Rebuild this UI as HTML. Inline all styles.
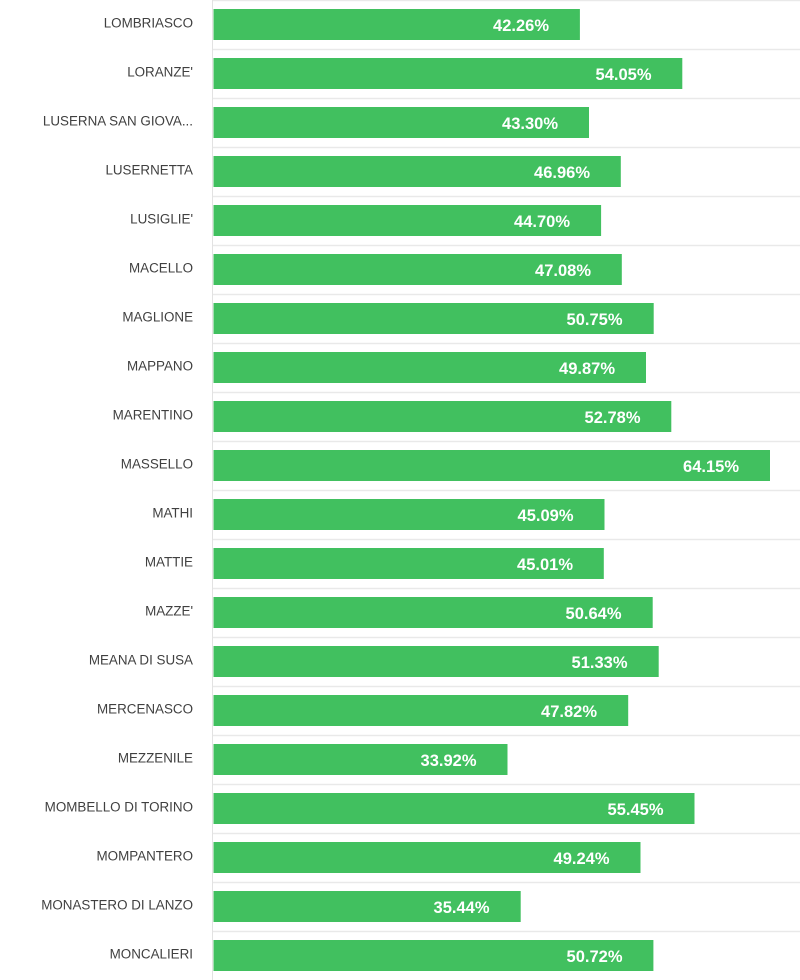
<!DOCTYPE html>
<html><head><meta charset="utf-8"><style>
html,body{margin:0;padding:0;background:#fff;width:800px;height:980px;overflow:hidden}
svg{display:block}
.l{font-family:"Liberation Sans",Arial,sans-serif;font-size:13.4px;fill:#404040;text-anchor:end}
.p{font-family:"Liberation Sans",Arial,sans-serif;font-size:16.5px;font-weight:bold;fill:#fff;text-anchor:end}
.b{fill:#41c05f}
.g{stroke:#e9e9e9;stroke-width:1.5}
</style></head><body>
<svg width="800" height="980" viewBox="0 0 800 980" xmlns="http://www.w3.org/2000/svg">
<g>
<line class="g" x1="213" x2="800" y1="0.5" y2="0.5"/>
<line class="g" x1="213" x2="800" y1="49.5" y2="49.5"/>
<line class="g" x1="213" x2="800" y1="98.5" y2="98.5"/>
<line class="g" x1="213" x2="800" y1="147.5" y2="147.5"/>
<line class="g" x1="213" x2="800" y1="196.5" y2="196.5"/>
<line class="g" x1="213" x2="800" y1="245.5" y2="245.5"/>
<line class="g" x1="213" x2="800" y1="294.5" y2="294.5"/>
<line class="g" x1="213" x2="800" y1="343.5" y2="343.5"/>
<line class="g" x1="213" x2="800" y1="392.5" y2="392.5"/>
<line class="g" x1="213" x2="800" y1="441.5" y2="441.5"/>
<line class="g" x1="213" x2="800" y1="490.5" y2="490.5"/>
<line class="g" x1="213" x2="800" y1="539.5" y2="539.5"/>
<line class="g" x1="213" x2="800" y1="588.5" y2="588.5"/>
<line class="g" x1="213" x2="800" y1="637.5" y2="637.5"/>
<line class="g" x1="213" x2="800" y1="686.5" y2="686.5"/>
<line class="g" x1="213" x2="800" y1="735.5" y2="735.5"/>
<line class="g" x1="213" x2="800" y1="784.5" y2="784.5"/>
<line class="g" x1="213" x2="800" y1="833.5" y2="833.5"/>
<line class="g" x1="213" x2="800" y1="882.5" y2="882.5"/>
<line class="g" x1="213" x2="800" y1="931.5" y2="931.5"/>
<line x1="212.5" x2="212.5" y1="0" y2="980" stroke="#e2e2e2" stroke-width="1"/>
</g>
<g>
<rect class="b" x="213.5" y="9" width="366.4" height="31"/>
<rect class="b" x="213.5" y="58" width="468.8" height="31"/>
<rect class="b" x="213.5" y="107" width="375.5" height="31"/>
<rect class="b" x="213.5" y="156" width="407.3" height="31"/>
<rect class="b" x="213.5" y="205" width="387.6" height="31"/>
<rect class="b" x="213.5" y="254" width="408.3" height="31"/>
<rect class="b" x="213.5" y="303" width="440.2" height="31"/>
<rect class="b" x="213.5" y="352" width="432.5" height="31"/>
<rect class="b" x="213.5" y="401" width="457.8" height="31"/>
<rect class="b" x="213.5" y="450" width="556.5" height="31"/>
<rect class="b" x="213.5" y="499" width="391.0" height="31"/>
<rect class="b" x="213.5" y="548" width="390.3" height="31"/>
<rect class="b" x="213.5" y="597" width="439.2" height="31"/>
<rect class="b" x="213.5" y="646" width="445.2" height="31"/>
<rect class="b" x="213.5" y="695" width="414.7" height="31"/>
<rect class="b" x="213.5" y="744" width="294.0" height="31"/>
<rect class="b" x="213.5" y="793" width="481.0" height="31"/>
<rect class="b" x="213.5" y="842" width="427.0" height="31"/>
<rect class="b" x="213.5" y="891" width="307.2" height="31"/>
<rect class="b" x="213.5" y="940" width="439.9" height="31"/>
</g>
<g>
<text class="l" x="193" y="27.7">LOMBRIASCO</text>
<text class="l" x="193" y="76.7">LORANZE'</text>
<text class="l" x="193" y="125.7">LUSERNA SAN GIOVA...</text>
<text class="l" x="193" y="174.7">LUSERNETTA</text>
<text class="l" x="193" y="223.7">LUSIGLIE'</text>
<text class="l" x="193" y="272.7">MACELLO</text>
<text class="l" x="193" y="321.7">MAGLIONE</text>
<text class="l" x="193" y="370.7">MAPPANO</text>
<text class="l" x="193" y="419.7">MARENTINO</text>
<text class="l" x="193" y="468.7">MASSELLO</text>
<text class="l" x="193" y="517.7">MATHI</text>
<text class="l" x="193" y="566.7">MATTIE</text>
<text class="l" x="193" y="615.7">MAZZE'</text>
<text class="l" x="193" y="664.7">MEANA DI SUSA</text>
<text class="l" x="193" y="713.7">MERCENASCO</text>
<text class="l" x="193" y="762.7">MEZZENILE</text>
<text class="l" x="193" y="811.7">MOMBELLO DI TORINO</text>
<text class="l" x="193" y="860.7">MOMPANTERO</text>
<text class="l" x="193" y="909.7">MONASTERO DI LANZO</text>
<text class="l" x="193" y="958.7">MONCALIERI</text>
</g>
<g>
<text class="p" x="549" y="31">42.26%</text>
<text class="p" x="651.5" y="80">54.05%</text>
<text class="p" x="558" y="129">43.30%</text>
<text class="p" x="590" y="178">46.96%</text>
<text class="p" x="570" y="227">44.70%</text>
<text class="p" x="591" y="276">47.08%</text>
<text class="p" x="622.5" y="325">50.75%</text>
<text class="p" x="615" y="374">49.87%</text>
<text class="p" x="640.5" y="423">52.78%</text>
<text class="p" x="739" y="472">64.15%</text>
<text class="p" x="573.5" y="521">45.09%</text>
<text class="p" x="573" y="570">45.01%</text>
<text class="p" x="621.5" y="619">50.64%</text>
<text class="p" x="627.5" y="668">51.33%</text>
<text class="p" x="597" y="717">47.82%</text>
<text class="p" x="476.5" y="766">33.92%</text>
<text class="p" x="663.5" y="815">55.45%</text>
<text class="p" x="609.5" y="864">49.24%</text>
<text class="p" x="489.5" y="913">35.44%</text>
<text class="p" x="622.5" y="962">50.72%</text>
</g>
</svg>
</body></html>
